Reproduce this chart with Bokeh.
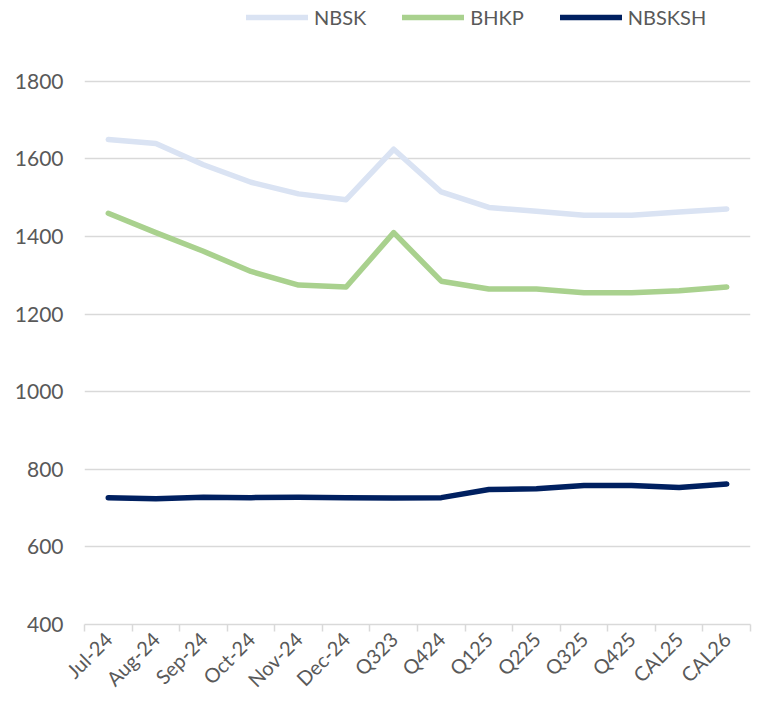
import math
from bokeh.plotting import figure
from bokeh.models import (ColumnDataSource, Range1d, FixedTicker, Legend, LegendItem)
from bokeh.embed import file_html
from bokeh.resources import INLINE

categories = ["Jul-24", "Aug-24", "Sep-24", "Oct-24", "Nov-24", "Dec-24", "Q323",
              "Q424", "Q125", "Q225", "Q325", "Q425", "CAL25", "CAL26"]
nbsk = [1650, 1640, 1585, 1540, 1510, 1495, 1625, 1515, 1475, 1465, 1455, 1455, 1463, 1471]
bhkp = [1460, 1410, 1362, 1310, 1275, 1270, 1410, 1285, 1265, 1265, 1255, 1255, 1260, 1270]
nbsksh = [727, 724, 728, 727, 728, 727, 726, 727, 748, 750, 758, 758, 753, 762]
y_ticks = [400, 600, 800, 1000, 1200, 1400, 1600, 1800]

FONT = "Lato"
TXT = "#595959"
GRID = "#D9D9D9"

# layout (pixels): the frame reaches the top of the canvas so the legend sits inside it;
# the value axis 400..1800 spans the lower 544 px of the 625 px tall frame
FRAME_H = 625
AXIS_H = 544
y_top = y_ticks[-1] + (FRAME_H - AXIS_H) / AXIS_H * (y_ticks[-1] - y_ticks[0])

xs = [i + 0.5 for i in range(len(categories))]
src = ColumnDataSource(data=dict(x=xs, nbsk=nbsk, bhkp=bhkp, nbsksh=nbsksh))

p = figure(width=752, height=702, output_backend="svg", toolbar_location=None,
           x_range=Range1d(0, len(categories)), y_range=Range1d(y_ticks[0], y_top),
           min_border_left=84, min_border_right=2, min_border_top=0, min_border_bottom=77)
p.outline_line_color = None
p.background_fill_color = "white"
p.border_fill_color = "white"

series = [("NBSK", "nbsk", "#DAE3F3"), ("BHKP", "bhkp", "#A9D18E"), ("NBSKSH", "nbsksh", "#002060")]
items = []
for name, col, color in series:
    r = p.line("x", col, source=src, line_color=color, line_width=5.5,
               line_cap="round", line_join="round")
    items.append(LegendItem(label=name, renderers=[r]))

# y axis
p.yaxis.ticker = FixedTicker(ticks=y_ticks)
p.yaxis.axis_line_color = None
p.yaxis.major_tick_line_color = None
p.yaxis.minor_tick_line_color = None
p.yaxis.major_tick_out = 0
p.yaxis.major_label_standoff = 21
p.yaxis.major_label_text_font = FONT
p.yaxis.major_label_text_font_size = "21px"
p.yaxis.major_label_text_color = TXT

# x axis: labels at centers, tick marks at category boundaries
p.xaxis.ticker = FixedTicker(ticks=xs, minor_ticks=list(range(len(categories) + 1)))
p.xaxis.major_label_overrides = {x: c for x, c in zip(xs, categories)}
p.xaxis.major_tick_line_color = None
p.xaxis.major_tick_out = 0
p.xaxis.major_tick_in = 0
p.xaxis.minor_tick_line_color = GRID
p.xaxis.minor_tick_line_width = 1.5
p.xaxis.minor_tick_out = 7
p.xaxis.minor_tick_in = 0
p.xaxis.axis_line_color = GRID
p.xaxis.axis_line_width = 1.5
p.xaxis.major_label_orientation = math.pi / 4
p.xaxis.major_label_standoff = 4
p.xaxis.major_label_text_font = FONT
p.xaxis.major_label_text_font_size = "20px"
p.xaxis.major_label_text_line_height = 1.0
p.xaxis.major_label_text_color = TXT

p.xgrid.grid_line_color = None
p.ygrid.grid_line_color = GRID
p.ygrid.grid_line_width = 1.5

legend = Legend(items=items, orientation="horizontal", location=(162, 595),
                glyph_width=62, glyph_height=20, label_height=20, label_standoff=6,
                spacing=36, padding=0, margin=0, border_line_color=None,
                background_fill_alpha=0, label_text_font=FONT,
                label_text_font_size="20px", label_text_color=TXT)
p.add_layout(legend)

open("out.html", "w").write(file_html(p, INLINE))
